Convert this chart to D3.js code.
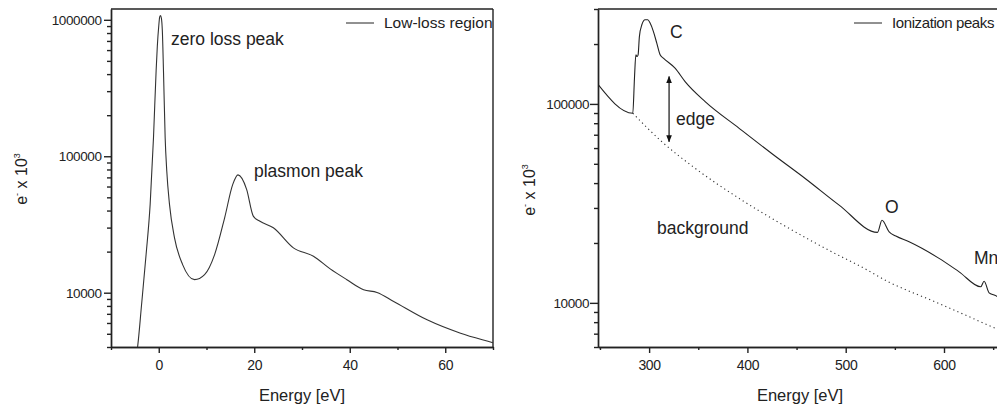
<!DOCTYPE html>
<html>
<head>
<meta charset="utf-8">
<script src="https://cdn.jsdelivr.net/npm/d3@7"></script>
<style>
body { margin:0; background:#fff; }
svg { font-family:"Liberation Sans", Arial, sans-serif; }
</style>
</head>
<body>
<svg id="chart" width="997" height="410"></svg>
<script>

// ---- low-loss spectrum (left) ----
var lowLossEnergy = [-5, -4.4, -3.6, -2.65, -1.8, -1.1, -0.55, -0.3, 0.0, 0.2, 0.36, 0.55, 0.75, 0.99, 1.34, 1.68, 2.25, 3.3, 5.0, 7.5, 9.6, 11.7, 13.8, 15.5, 16.6, 18.4, 19.8, 21.2, 24.0, 28.2, 32.4, 35.9, 39.4, 42.9, 45.7, 49.2, 56.2, 63.2, 69.8, 70.5];
var lowLossCounts = [3000, 4090, 8160, 19040, 44400, 137300, 424000, 640000, 900000, 1050000, 1076000, 1030000, 834000, 424000, 137300, 78000, 44400, 25240, 16070, 12460, 13560, 19030, 35400, 62200, 73000, 57200, 36400, 33400, 29900, 21320, 18490, 14940, 12460, 10520, 10050, 8630, 6330, 5050, 4320, 4250];

// ---- core-loss spectrum (right) ----
var ionEnergy = [247, 283.4, 285.1, 286.5, 287.8, 288.8, 290.1, 292.6, 295.9, 298.6, 301, 304.4, 307.8, 311.2, 314.5, 326.4, 336.6, 357, 391.6, 425.4, 459.4, 493.3, 532.3, 536.9, 544.2, 551, 564.5, 595, 615.4, 637.4, 640.8, 645.9, 651, 660];
var ionCounts = [127100, 89800, 134700, 176500, 173000, 176500, 218000, 249900, 264700, 264700, 254800, 231000, 202000, 176500, 169800, 151200, 129500, 102700, 75400, 56000, 41950, 31000, 22600, 26000, 22760, 21660, 20280, 16730, 14320, 12040, 12850, 11230, 10940, 10500];
var bgEnergy = [283.4, 312.9, 346.8, 391.6, 442.4, 493.3, 513.6, 544.2, 588.2, 652, 660];
var bgCounts = [89800, 64600, 47480, 33500, 23680, 17280, 15400, 12700, 10250, 7450, 7150];

// ticks
var leftXMajor = [0, 20, 40, 60];
var leftXMinor = [-10, 10, 30, 50, 70];
var leftYMajor = [10000, 100000, 1000000];
var rightXMajor = [300, 400, 500, 600];
var rightXMinor = [250, 350, 450, 550, 650];
var rightYMajor = [10000, 100000];

// edge arrow (energy, from, to)
var edgeArrow = [320.3, 64600, 137200];

var svg = d3.select('#chart');
var ink = '#222';

function minorLog(lo, hi){
	var rv = [];
	for (var d = 1000; d <= 1000000; d *= 10){
		for (var k = 2; k <= 9; k++){
			var v = k * d;
			if (v >= lo && v <= hi) rv.push(v);
		}
	}
	return rv;
}

function panel(o){
	var x = d3.scaleLinear().domain(o.xDomain).range(o.xRange);
	var y = d3.scaleLog().domain(o.yDomain).range([347, 9]);
	var g = svg.append('g');

	var clipId = 'clip' + o.id;
	svg.append('clipPath').attr('id', clipId)
	  .append('rect')
		.attr('x', o.xRange[0]).attr('y', 9)
		.attr('width', o.xRange[1] - o.xRange[0]).attr('height', 338);

	// axes
	var xa = g.append('g').attr('transform', 'translate(0,347)')
		.call(d3.axisBottom(x).tickValues(o.xMajor).tickSize(6).tickSizeOuter(0).tickPadding(7).tickFormat(d3.format('d')));
	g.append('g').attr('transform', 'translate(0,347)')
		.call(d3.axisBottom(x).tickValues(o.xMinor).tickSize(3).tickSizeOuter(0).tickFormat(''));
	var ya = g.append('g').attr('transform', 'translate(' + o.xRange[0] + ',0)')
		.call(d3.axisLeft(y).tickValues(o.yMajor).tickSize(o.yTick).tickSizeOuter(0).tickPadding(o.yPad).tickFormat(d3.format('d')));
	g.append('g').attr('transform', 'translate(' + o.xRange[0] + ',0)')
		.call(d3.axisLeft(y).tickValues(minorLog(o.yDomain[0], o.yDomain[1])).tickSize(4).tickSizeOuter(0).tickFormat(''));
	g.selectAll('.domain, .tick line').attr('stroke', ink).attr('stroke-width', 1.4);
	xa.selectAll('text').attr('font-size', 14).attr('fill', ink).attr('font-family', '"Liberation Sans", Arial, sans-serif').attr('letter-spacing', -0.3);
	ya.selectAll('text').attr('font-size', 13.5).attr('fill', ink).attr('font-family', '"Liberation Sans", Arial, sans-serif').attr('letter-spacing', -0.4);

	// frame
	g.append('line').attr('x1', o.xRange[0]).attr('x2', o.xRange[1]).attr('y1', 9).attr('y2', 9)
		.attr('stroke', ink).attr('stroke-width', 1.4);
	if (o.rightBorder){
		g.append('line').attr('x1', o.xRange[1]).attr('x2', o.xRange[1]).attr('y1', 9).attr('y2', 347)
			.attr('stroke', ink).attr('stroke-width', 1.4);
	}

	// labels
	g.append('text').attr('x', (o.xRange[0] + o.xRange[1]) / 2).attr('y', 401)
		.attr('text-anchor', 'middle').attr('font-size', 16.5).attr('fill', ink)
		.text('Energy [eV]');
	var yl = g.append('text').attr('transform', 'translate(' + o.yLabelX + ',' + o.yLabelY + ') rotate(-90)')
		.attr('text-anchor', 'middle').attr('font-size', 16).attr('fill', ink);
	yl.append('tspan').text('e');
	yl.append('tspan').attr('font-size', 9).attr('dy', -7).text('-');
	yl.append('tspan').attr('dy', 7).text(' x 10');
	yl.append('tspan').attr('font-size', 9).attr('dy', -7).text('3');

	// legend
	g.append('line').attr('x1', o.legendX).attr('x2', o.legendX + 28).attr('y1', 23).attr('y2', 23)
		.attr('stroke', ink).attr('stroke-width', 1);
	g.append('text').attr('x', o.legendX + 38).attr('y', 28).attr('font-size', o.legendSize)
		.attr('letter-spacing', o.legendSpacing).attr('fill', ink).text(o.legend);

	var line = d3.line()
		.x(function(d){ return x(d[0]); })
		.y(function(d){ return y(d[1]); })
		.curve(d3.curveMonotoneX);

	return {x: x, y: y, g: g, line: line, clip: 'url(#' + clipId + ')'};
}

function note(p, x, y, s){
	p.g.append('text').attr('x', x).attr('y', y).attr('font-size', 17.5).attr('fill', ink).text(s);
}

// left panel
var L = panel({id: 'L', xDomain: [-10, 70], xRange: [111, 493], yDomain: [4000, 1200000],
	xMajor: leftXMajor, xMinor: leftXMinor, yMajor: leftYMajor, yTick: 7, yPad: 2.5,
	yLabelX: 27, yLabelY: 179, legendX: 346, legend: 'Low-loss region', legendSize: 15.5, legendSpacing: 0,
	rightBorder: true});

L.g.append('path')
	.datum(d3.zip(lowLossEnergy, lowLossCounts))
	.attr('d', L.line).attr('fill', 'none').attr('stroke', '#333').attr('stroke-width', 1.1)
	.attr('clip-path', L.clip);

note(L, 171, 45, 'zero loss peak');
note(L, 254, 177, 'plasmon peak');

// right panel
var R = panel({id: 'R', xDomain: [248, 659], xRange: [598, 1002], yDomain: [6000, 300000],
	xMajor: rightXMajor, xMinor: rightXMinor, yMajor: rightYMajor, yTick: 8, yPad: 1,
	yLabelX: 535, yLabelY: 190, legendX: 854, legend: 'Ionization peaks', legendSize: 15, legendSpacing: -0.4,
	rightBorder: false});

R.g.append('path')
	.datum(d3.zip(bgEnergy, bgCounts))
	.attr('d', R.line).attr('fill', 'none').attr('stroke', '#333').attr('stroke-width', 1.1)
	.attr('stroke-dasharray', '1.2,3.2')
	.attr('clip-path', R.clip);
R.g.append('path')
	.datum(d3.zip(ionEnergy, ionCounts))
	.attr('d', R.line).attr('fill', 'none').attr('stroke', '#222').attr('stroke-width', 1.1)
	.attr('clip-path', R.clip);

// double arrow for the edge
var defs = svg.append('defs');
defs.append('marker').attr('id', 'head').attr('viewBox', '0 0 10 10').attr('refX', 9).attr('refY', 5)
	.attr('markerWidth', 7).attr('markerHeight', 9).attr('markerUnits', 'userSpaceOnUse').attr('orient', 'auto-start-reverse')
  .append('path').attr('d', 'M0,1 L10,5 L0,9 Z').attr('fill', '#111');
R.g.append('line')
	.attr('x1', R.x(edgeArrow[0])).attr('x2', R.x(edgeArrow[0]))
	.attr('y1', R.y(edgeArrow[1])).attr('y2', R.y(edgeArrow[2]))
	.attr('stroke', '#111').attr('stroke-width', 1.2)
	.attr('marker-start', 'url(#head)').attr('marker-end', 'url(#head)');

note(R, 670, 38, 'C');
note(R, 676, 125, 'edge');
note(R, 657, 234, 'background');
note(R, 885, 213, 'O');
note(R, 974, 264, 'Mn');

</script>
</body>
</html>
